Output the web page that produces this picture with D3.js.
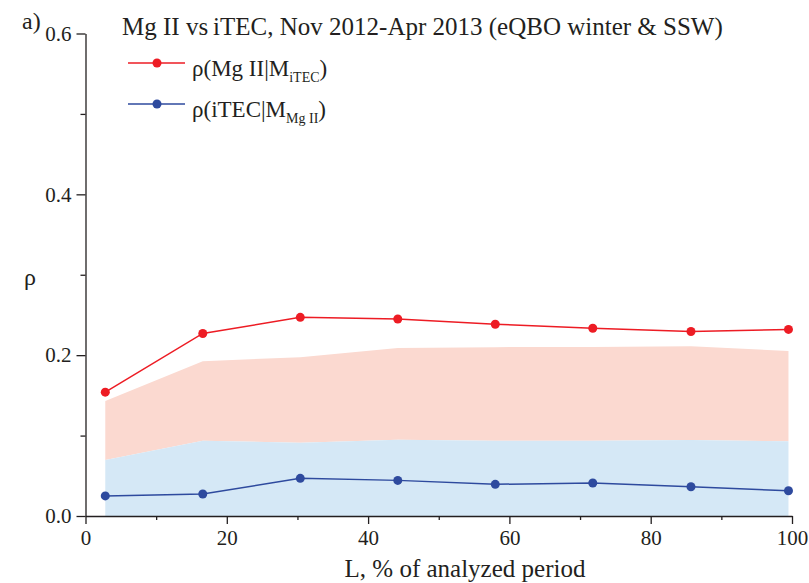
<!DOCTYPE html>
<html>
<head>
<meta charset="utf-8">
<script src="https://cdn.jsdelivr.net/npm/d3@7"></script>
<style>
  body { margin: 0; background: #fff; }
  text { font-family: "Liberation Serif", "Times New Roman", serif; fill: #231f20; }
</style>
</head>
<body>
<div class="chart"></div>
<script>
// data
const L = [2.8, 16.6, 30.4, 44.2, 58.0, 71.8, 85.7, 99.5];
const rhoMg = [0.154, 0.227, 0.247, 0.245, 0.2385, 0.2335, 0.2295, 0.232];
const rhoTec = [0.025, 0.0273, 0.0468, 0.0443, 0.0394, 0.041, 0.0364, 0.0314];
const bandTop = [0.143, 0.1925, 0.1975, 0.209, 0.210, 0.2103, 0.211, 0.2053];
const bandMid = [0.0696, 0.0936, 0.091, 0.0948, 0.0936, 0.0935, 0.0945, 0.093];
const xTicks = [0, 20, 40, 60, 80, 100];
const xMinor = [10, 30, 50, 70, 90];
const yTicks = [0, 0.2, 0.4, 0.6];
const yMinor = [0.1, 0.3, 0.5];

const red = '#ed1c24', blue = '#2e4a9e';

const svg = d3.select('.chart')
              .append('svg')
              .attr('width', 809)
              .attr('height', 583);

const x = d3.scaleLinear().domain([0, 100]).range([85.5, 792]);
const y = d3.scaleLinear().domain([0, 0.6]).range([516, 33.5]);

const rows = L.map((v, i) => ({ x: v, top: bandTop[i], mid: bandMid[i], r: rhoMg[i], t: rhoTec[i] }));

// shaded bands
const pink = d3.area().x(d => x(d.x)).y0(d => y(d.mid)).y1(d => y(d.top));
const lightBlue = d3.area().x(d => x(d.x)).y0(y(0)).y1(d => y(d.mid));
svg.append('path').attr('d', pink(rows)).attr('fill', '#fbd9d0');
svg.append('path').attr('d', lightBlue(rows)).attr('fill', '#d5e8f6');

// axes
const fmtX = d3.format('d');
const fmtY = d => d === 0 ? '0.0' : d3.format('.1f')(d);

function styleAxis(g) {
    g.attr('font-family', null);
    g.selectAll('path, line').attr('stroke', '#231f20').attr('stroke-width', 1.3);
    g.selectAll('text').style('font-size', '21px').attr('fill', '#231f20')
        .style('font-family', '"Liberation Serif", serif');
}

svg.append('g').attr('transform', `translate(0, ${y(0)})`)
    .call(d3.axisBottom(x).tickValues(xTicks).tickFormat(fmtX).tickSize(8).tickSizeOuter(0).tickPadding(6))
    .call(styleAxis);
svg.append('g').attr('transform', `translate(0, ${y(0)})`)
    .call(d3.axisBottom(x).tickValues(xMinor).tickFormat('').tickSize(4).tickSizeOuter(0))
    .call(g => g.select('.domain').remove())
    .call(styleAxis);

svg.append('g').attr('transform', `translate(${x(0)}, 0)`)
    .call(d3.axisLeft(y).tickValues(yTicks).tickFormat(fmtY).tickSize(9).tickSizeOuter(0).tickPadding(5))
    .call(styleAxis);
svg.append('g').attr('transform', `translate(${x(0)}, 0)`)
    .call(d3.axisLeft(y).tickValues(yMinor).tickFormat('').tickSize(5).tickSizeOuter(0))
    .call(g => g.select('.domain').remove())
    .call(styleAxis);

// lines + markers
function series(key, color) {
    const line = d3.line().x(d => x(d.x)).y(d => y(d[key]));
    svg.append('path').attr('d', line(rows)).attr('fill', 'none')
        .attr('stroke', color).attr('stroke-width', 1.5);
    svg.selectAll('.dot-' + key).data(rows).enter()
        .append('circle')
        .attr('class', 'dot-' + key)
        .attr('cx', d => x(d.x)).attr('cy', d => y(d[key]))
        .attr('r', 4.5).attr('fill', color);
}
series('r', red);
series('t', blue);

// labels
svg.append('text').attr('x', 22).attr('y', 29).style('font-size', '24px').text('a)');
svg.append('text').attr('x', 122).attr('y', 35).style('font-size', '25px')
    .text('Mg II vs\u2009iTEC, Nov 2012-Apr 2013 (eQBO winter & SSW)');
svg.append('text').attr('x', 24).attr('y', 285).style('font-size', '24px').text('ρ');
svg.append('text').attr('x', 465).attr('y', 577).attr('text-anchor', 'middle')
    .style('font-size', '25px').text('L, % of analyzed period');

// legend
const legend = [
    { color: red, main: 'ρ(Mg II|M', sub: 'iTEC', y: 63 },
    { color: blue, main: 'ρ(iTEC|M', sub: 'Mg II', y: 104 }
];
legend.forEach(d => {
    svg.append('line').attr('x1', 128).attr('x2', 185).attr('y1', d.y).attr('y2', d.y)
        .attr('stroke', d.color).attr('stroke-width', 1.5);
    svg.append('circle').attr('cx', 157).attr('cy', d.y).attr('r', 4.5).attr('fill', d.color);
    const t = svg.append('text').attr('x', 192).attr('y', d.y + 13).style('font-size', '23px');
    t.append('tspan').text(d.main);
    t.append('tspan').attr('dy', 6).style('font-size', '14px').text(d.sub);
    t.append('tspan').attr('dy', -6).text(')');
});
</script>
</body>
</html>
